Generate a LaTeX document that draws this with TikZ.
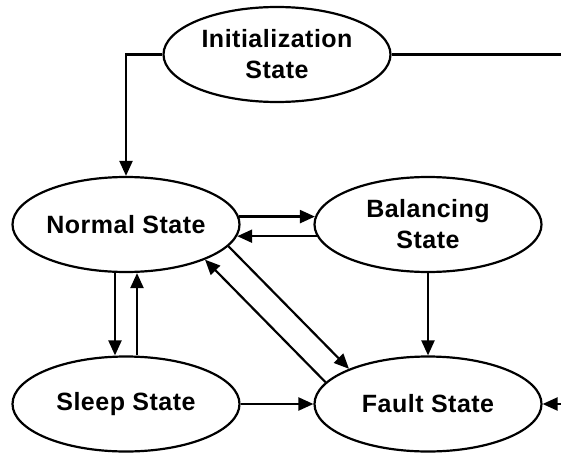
\documentclass[tikz,border=0pt]{standalone}
\usepackage{fontspec}
\setmainfont{Liberation Sans}[LetterSpace=2]
\usetikzlibrary{shapes.geometric,arrows.meta}
\begin{document}
\begin{tikzpicture}[x=1pt,y=-1pt,
  state/.style={draw, ellipse, line width=2.2pt, minimum width=227pt, minimum height=95pt,
    inner sep=0pt, align=center, font=\fontsize{25}{31}\selectfont\bfseries},
  conn/.style={line width=2.2pt, -{Triangle[length=15pt,width=13pt]}},
  plain/.style={line width=2.2pt}]
\useasboundingbox (0,0) rectangle (561,452);
\node[state] (I) at (277,54.5) {Initialization\\State};
\node[state] (N) at (126,224.5) {Normal State};
\node[state] (B) at (428,224.5) {Balancing\\State};
\node[state] (S) at (126,404) {Sleep State};
\node[state] (F) at (428,404) {Fault State};
\coordinate (Rtop) at (561,54.5);
\coordinate (Rbot) at (561,404);
\draw[conn] (I.west) -| (N.north);
\draw[plain] (I.east) -- (Rtop);
\draw[conn] (N.4) -- (B.176);
\draw[conn] (B.186) -- (N.-6);
\draw[conn] ([xshift=-11pt]N.south) -- ([xshift=-11pt]S.north);
\draw[conn] ([xshift=11pt]S.north) -- ([xshift=11pt]N.south);
\draw[conn] (N.-12.7) -- (F.156.7);
\draw[conn] (F.168.3) -- (N.-24.2);
\draw[conn] (B.south) -- (F.north);
\draw[conn] (S.east) -- (F.west);
\draw[conn] (Rbot) -- (F.east);
\end{tikzpicture}
\end{document}
